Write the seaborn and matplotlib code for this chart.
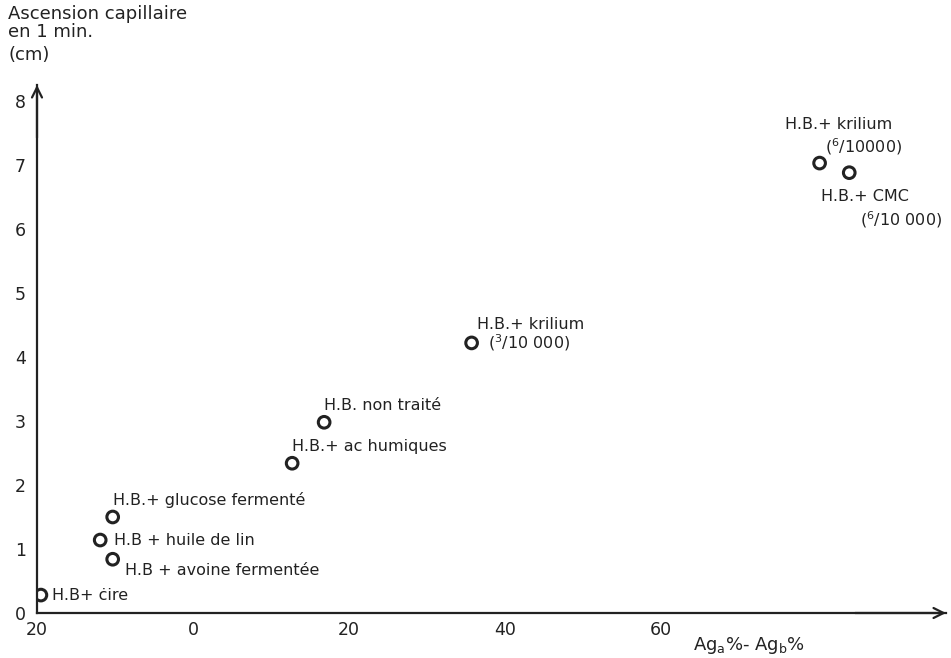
import numpy as np
import pandas as pd
import matplotlib
matplotlib.use('Agg')
import matplotlib.pyplot as plt
import seaborn as sns

# values
traitements = ['H.B+ ċire', 'H.B + avoine fermentée', 'H.B + huile de lin',
               'H.B.+ glucose fermenté', 'H.B.+ ac humiques', 'H.B. non traité',
               'H.B.+ krilium (3/10 000)', 'H.B.+ krilium (6/10000)',
               'H.B.+ CMC (6/10 000)']
delta_ag = [-19.5, -10.3, -11.9, -10.3, 12.7, 16.8, 35.7, 80.3, 84.1]
ascension = [0.28, 0.84, 1.14, 1.50, 2.34, 2.98, 4.22, 7.03, 6.88]

x_ticks = [-20, 0, 20, 40, 60]
x_ticklabels = ['20', '0', '20', '40', '60']
y_ticks = [0, 1, 2, 3, 4, 5, 6, 7, 8]

df = pd.DataFrame({'traitement': traitements, 'x': delta_ag, 'y': ascension})

sns.set_style('white')
plt.rcParams['font.family'] = ['DejaVu Sans']
plt.rcParams['mathtext.default'] = 'regular'
ink = '#222222'

fig = plt.figure(figsize=(9.51, 6.58), dpi=100)
ax = fig.add_axes([37 / 951, 45 / 658, 909 / 951, 528 / 658])

sns.scatterplot(data=df, x='x', y='y', ax=ax, marker='o', s=70,
                facecolors='none', edgecolor=ink, linewidth=2.2, legend=False)

ax.set_xlim(-20, 96.5)
ax.set_ylim(0, 8.25)

# label placement (offsets in points), hand tuned to the scan
labels = [
    ('H.B+ ċire', 0, (8, 0)),
    ('H.B + avoine fermentée', 1, (9, -8)),
    ('H.B + huile de lin', 2, (10, 0)),
    ('H.B.+ glucose fermenté', 3, (0, 12)),
    ('H.B.+ ac humiques', 4, (0, 12)),
    ('H.B. non traité', 5, (0, 12)),
    ('H.B.+ krilium', 6, (4, 13)),
    ('($^{3}$/10 000)', 6, (12, 0)),
    ('H.B.+ krilium', 7, (-25, 28)),
    ('($^{6}$/10000)', 7, (4, 12)),
    ('H.B.+ CMC', 8, (-20, -17)),
    ('($^{6}$/10 000)', 8, (8, -34)),
]
for txt, i, off in labels:
    ax.annotate(txt, (delta_ag[i], ascension[i]), xytext=off,
                textcoords='offset points', ha='left', va='center',
                fontsize=11.5, color=ink)

# axes drawn like the original: two arrows with small crossing ticks
sns.despine(ax=ax, top=True, right=True)
for side in ['left', 'bottom']:
    ax.spines[side].set_color(ink)
    ax.spines[side].set_linewidth(1.6)
ax.annotate('', xy=(1.0, 0), xytext=(0.9, 0), xycoords='axes fraction',
            arrowprops=dict(arrowstyle='->', color=ink, lw=1.6,
                            mutation_scale=18, shrinkA=0, shrinkB=0))
ax.annotate('', xy=(0, 1.0), xytext=(0, 0.9), xycoords='axes fraction',
            arrowprops=dict(arrowstyle='->', color=ink, lw=1.6,
                            mutation_scale=18, shrinkA=0, shrinkB=0))

ax.set_xticks(x_ticks)
ax.set_xticklabels(x_ticklabels)
ax.set_yticks(y_ticks)
ax.tick_params(direction='inout', length=6, width=1.2, colors=ink,
               labelsize=12.5, pad=3)
ax.tick_params(axis='y', pad=5)
ax.set_xlabel('')
ax.set_ylabel('')

fig.text(8 / 951, 1 - 5 / 658, 'Ascension capillaire\nen 1 min.', ha='left',
         va='top', fontsize=13, color=ink, linespacing=1.0)
fig.text(8 / 951, 1 - 46 / 658, '(cm)', ha='left', va='top',
         fontsize=13, color=ink)
fig.text(693 / 951, 1 - 645 / 658, 'Ag$_{a}$%- Ag$_{b}$%',
         ha='left', va='center', fontsize=13, color=ink)

fig.savefig('out.png', dpi=100)
